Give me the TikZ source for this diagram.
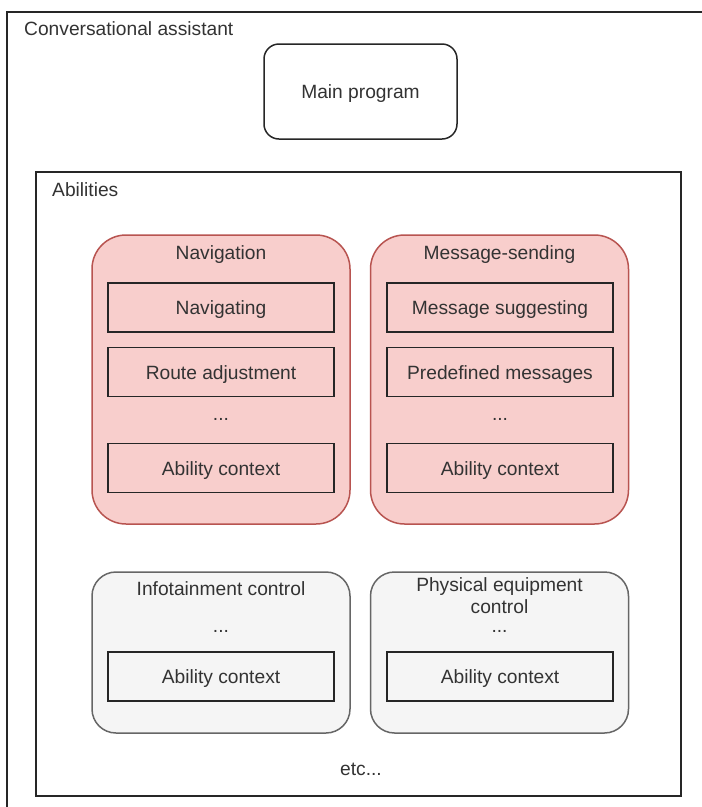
\documentclass[tikz,border=0pt]{standalone}
\usepackage{fontspec}
\setmainfont{Liberation Sans}
\definecolor{pinkfill}{HTML}{F8CECC}
\definecolor{pinkdraw}{HTML}{B85450}
\definecolor{grayfill}{HTML}{F5F5F5}
\definecolor{graydraw}{HTML}{666666}
\definecolor{txt}{HTML}{333333}
\tikzset{
  every node/.style={font=\fontsize{19.2}{22}\selectfont, text=txt},
  frame/.style={draw=black!85, line width=1.5pt},
  container/.style={rectangle, rounded corners=#1, line width=1.5pt, inner sep=0pt},
  pinkbox/.style={container=34pt, draw=pinkdraw, fill=pinkfill, minimum width=258pt, minimum height=289pt},
  graybox/.style={container=24pt, draw=graydraw, fill=grayfill, minimum width=258pt, minimum height=161pt},
  itembox/.style={rectangle, draw=black!85, line width=1.5pt, fill=pinkfill, minimum width=226pt, minimum height=49pt, inner sep=0pt, text height=14pt, text depth=0pt},
  lbl/.style={inner sep=0pt, anchor=center, text height=14pt, text depth=0pt},
  dots/.style={inner sep=0pt, anchor=center},
}
\begin{document}
\begin{tikzpicture}[x=1pt, y=-1pt]
\useasboundingbox[fill=white] (0,0) rectangle (702,807);
% outer container (cropped on right and bottom)
\coordinate (oTR) at (702,12);
\coordinate (oTL) at (7,12);
\coordinate (oBL) at (7,807);
\draw[frame] (oTR) -- (oTL) -- (oBL);
\node[lbl, anchor=west] (ca) at (24,28) {Conversational assistant};
% main program
\node[rectangle, rounded corners=15pt, draw=black!85, line width=1.5pt, minimum width=193pt, minimum height=95pt, inner sep=0pt, text height=14pt, text depth=0pt] (main) at (360.5,91.5) {Main program};
% abilities
\node[frame, rectangle, minimum width=645pt, minimum height=624pt, inner sep=0pt] (abil) at (358.5,484) {};
\node[lbl, anchor=west] (abl) at (52,189) {Abilities};
% navigation
\node[pinkbox] (nav) at (221,379.5) {};
\node[lbl] (navt) at (221,252) {Navigation};
\node[itembox] (nav1) at (221,307.5) {Navigating};
\node[itembox] (nav2) at (221,372) {Route adjustment};
\node[dots] (nav3) at (221,419) {...};
\node[itembox] (nav4) at (221,468) {Ability context};
% message sending
\node[pinkbox] (msg) at (499.5,379.5) {};
\node[lbl] (msgt) at (499.5,252) {Message-sending};
\node[itembox] (msg1) at (500,307.5) {Message suggesting};
\node[itembox] (msg2) at (500,372) {Predefined messages};
\node[dots] (msg3) at (500,419) {...};
\node[itembox] (msg4) at (500,468) {Ability context};
% infotainment
\node[graybox] (info) at (221,652.5) {};
\node[lbl] (infot) at (221,588) {Infotainment control};
\node[dots] (info2) at (221,631) {...};
\node[itembox, fill=grayfill] (info3) at (221,676.5) {Ability context};
% physical
\node[graybox] (phys) at (499.5,652.5) {};
\node[inner sep=0pt, align=center] (physt) at (499.5,596) {Physical equipment\\control};
\node[dots] (phys2) at (499.5,631) {...};
\node[itembox, fill=grayfill] (phys3) at (500,676.5) {Ability context};
% etc
\node[lbl] (etc) at (361,768) {etc...};
\end{tikzpicture}
\end{document}
